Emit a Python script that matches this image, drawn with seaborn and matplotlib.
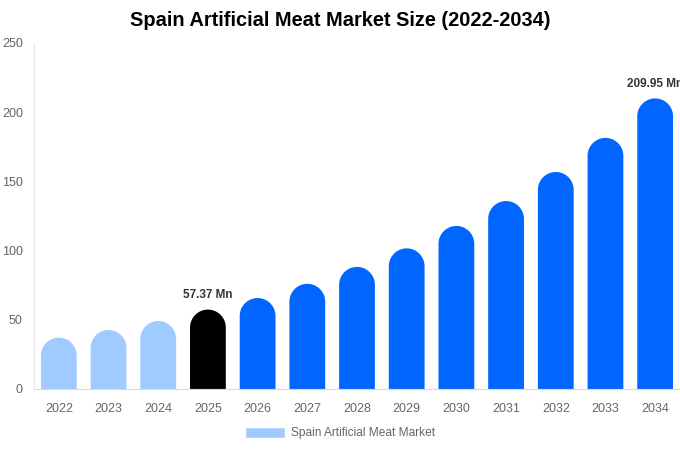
import numpy as np
import pandas as pd
import matplotlib
matplotlib.use('Agg')
import matplotlib.pyplot as plt
from matplotlib.path import Path
from matplotlib.patches import PathPatch, Patch
import seaborn as sns

years = ['2022', '2023', '2024', '2025', '2026', '2027', '2028',
         '2029', '2030', '2031', '2032', '2033', '2034']
market_size = [37.1, 42.6, 49.1, 57.37, 65.7, 76.0, 88.2,
               101.6, 117.8, 135.8, 156.8, 181.4, 209.95]
bar_colors = ['#a0cbff', '#a0cbff', '#a0cbff', '#000000', '#0066ff', '#0066ff',
              '#0066ff', '#0066ff', '#0066ff', '#0066ff', '#0066ff', '#0066ff', '#0066ff']
labelled = {'2025': '57.37 Mn', '2034': '209.95 Mn'}

df = pd.DataFrame({'year': years, 'size': market_size})

sns.set_style('white')
plt.rcParams['font.family'] = ['Liberation Sans', 'DejaVu Sans']

fig = plt.figure(figsize=(6.8, 4.5), dpi=100)
ax = fig.add_axes([0.05, 0.1356, 0.95, 0.7689])

sns.barplot(data=df, x='year', y='size', hue='year', palette=bar_colors,
            legend=False, width=0.72, ax=ax, saturation=1)
ax.set_ylim(0, 250)
ax.set_xlim(-0.5, len(years) - 0.5)
fig.canvas.draw()

# swap the flat bars for ones with a round top (circle in pixel space)
to_disp = ax.transData
for bar in list(ax.patches):
    x0, w, h = bar.get_x(), bar.get_width(), bar.get_height()
    px0 = to_disp.transform((x0, 0))
    px1 = to_disp.transform((x0 + w, h))
    r = (px1[0] - px0[0]) / 2
    cx = (px0[0] + px1[0]) / 2
    top = px1[1]
    theta = np.linspace(0, np.pi, 40)
    verts = [(px1[0], px0[1]), (px1[0], top - r)]
    verts += [(cx + r * np.cos(t), top - r + r * np.sin(t)) for t in theta]
    verts += [(px0[0], px0[1]), (px1[0], px0[1])]
    codes = [Path.MOVETO] + [Path.LINETO] * (len(verts) - 2) + [Path.CLOSEPOLY]
    shape = PathPatch(Path(verts, codes), transform=None,
                      facecolor=bar.get_facecolor(), edgecolor='none')
    ax.add_artist(shape)
    bar.set_visible(False)

for i, yr in enumerate(years):
    if yr in labelled:
        ax.annotate(labelled[yr], (i, market_size[i]), xytext=(0, 6),
                    textcoords='offset points', ha='center', va='bottom',
                    fontsize=8.5, fontweight='bold', color='#333333',
                    annotation_clip=False)

ax.set_yticks([0, 50, 100, 150, 200, 250])
ax.tick_params(axis='both', colors='#666666', labelsize=9, length=0)
ax.tick_params(axis='x', pad=10)
ax.tick_params(axis='y', pad=8)
ax.set_xlabel('')
ax.set_ylabel('')
for side in ['top', 'right']:
    ax.spines[side].set_visible(False)
ax.spines['left'].set_color('#e6e6e6')
ax.spines['bottom'].set_color('#d9d9d9')

fig.suptitle('Spain Artificial Meat Market Size (2022-2034)', y=0.975,
             fontsize=14.4, fontweight='bold', color='#000000')

fig.legend(handles=[Patch(facecolor='#a0cbff', label='Spain Artificial Meat Market')],
           loc='center', bbox_to_anchor=(0.5, 0.038), frameon=False,
           fontsize=8.6, handlelength=3.35, handleheight=1.1,
           labelcolor='#666666', handletextpad=0.45)

fig.savefig('out.png', dpi=100)
